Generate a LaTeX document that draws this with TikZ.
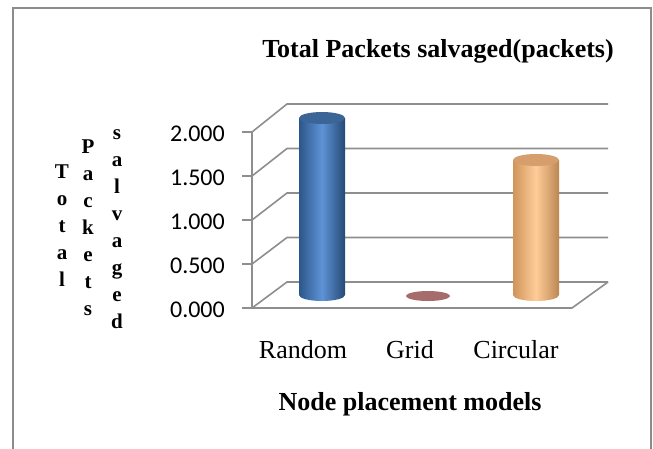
\documentclass[tikz,border=0pt]{standalone}
\usepackage{fontspec}
\usepackage{xcolor}
\setmainfont{Liberation Serif}
\newfontfamily\calfont{Carlito}

\definecolor{framegray}{HTML}{8C8C8C}
\definecolor{gridgray}{HTML}{8E8E8E}
\definecolor{bluedark}{HTML}{2C568A}
\definecolor{bluelight}{HTML}{5E93D6}
\definecolor{bluetop}{HTML}{3B6597}
\definecolor{orangedark}{HTML}{D09559}
\definecolor{orangelight}{HTML}{FFCC99}
\definecolor{orangetop}{HTML}{D69E6C}
\definecolor{gridred}{HTML}{A66B6B}

\begin{document}
\begin{tikzpicture}[x=1pt, y=-1pt,
		gridline/.style = {draw=gridgray, line width=1.6pt},
		ticklabel/.style = {anchor=base east, inner sep=0pt, font=\calfont\fontsize{24}{28}\selectfont},
		axisletters/.style = {align=center, inner sep=0pt, font=\bfseries\fontsize{21}{27}\selectfont},
		catlabel/.style = {anchor=base, inner sep=0pt, font=\fontsize{26}{31}\selectfont},
		boldlabel/.style = {anchor=base, inner sep=0pt, font=\bfseries\fontsize{26}{31}\selectfont}
	]
		\useasboundingbox (0,0) rectangle (653,448);
		\fill[white] (0,0) rectangle (653,448);
		\draw[framegray, line width=2pt] (13,470) -- (13,8) -- (651,8) -- (651,470);

		% walls and floor
		\foreach \k in {0,...,4} {
			\coordinate (front\k) at (252,{308-44*\k});
			\coordinate (back\k) at (287,{282-44.5*\k});
			\draw[gridline] (242,{308-44*\k}) -- (front\k) -- (back\k) -- (608,{282-44.5*\k});
		}
		\draw[gridline] (front0) -- (front4);
		\coordinate (floorright) at (572,308);
		\draw[gridline] (front0) -- (floorright) -- (608,282);

		% tick labels
		\node[ticklabel] (t0) at (225,317) {0.000};
		\node[ticklabel] (t1) at (225,273) {0.500};
		\node[ticklabel] (t2) at (225,229) {1.000};
		\node[ticklabel] (t3) at (225,185) {1.500};
		\node[ticklabel] (t4) at (225,141) {2.000};

		% Random
		\shade[left color=bluedark, right color=bluedark!85!black, middle color=bluelight]
			(299,118) -- (299,295) arc[start angle=180, end angle=0, x radius=23, y radius=6]
			-- (345,118) -- cycle;
		\fill[bluetop] (322,118) ellipse[x radius=23, y radius=6];

		% Grid
		\fill[gridred] (428,296) ellipse[x radius=22, y radius=5];

		% Circular
		\shade[left color=orangedark, right color=orangedark!90!black, middle color=orangelight]
			(513,160) -- (513,295) arc[start angle=180, end angle=0, x radius=23, y radius=6]
			-- (559,160) -- cycle;
		\fill[orangetop] (536,160) ellipse[x radius=23, y radius=6];

		\node[boldlabel] (title) at (438,57) {Total Packets salvaged(packets)};
		\node[axisletters] (ytotal) at (62,226) {T\\o\\t\\a\\l};
		\node[axisletters] (ypackets) at (88,228) {P\\a\\c\\k\\e\\t\\s};
		\node[axisletters] (ysalvaged) at (117,229) {s\\a\\l\\v\\a\\g\\e\\d};

		\node[catlabel] (random) at (303,358) {Random};
		\node[catlabel] (grid) at (410,358) {Grid};
		\node[catlabel] (circular) at (516,358) {Circular};
		\node[boldlabel] (xtitle) at (410,410) {Node placement models};
	\end{tikzpicture}
\end{document}
